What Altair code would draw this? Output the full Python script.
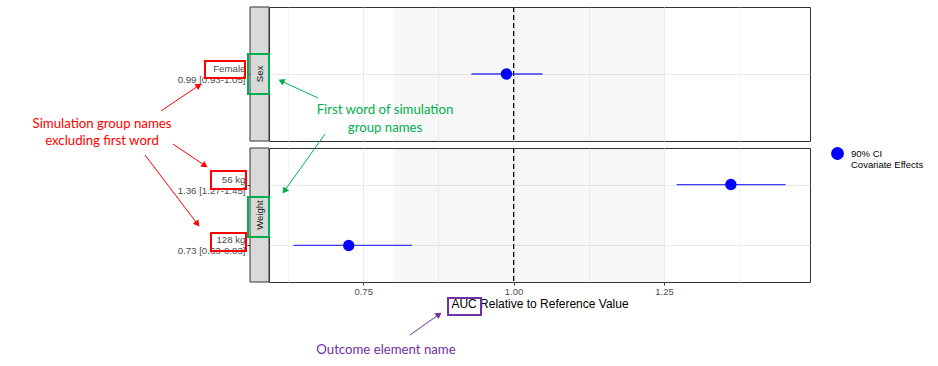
import math
import altair as alt
import pandas as pd

# ---------------- data ----------------
groups = ["Sex", "Weight", "Weight"]
subgroups = ["Female", "56 kg", "128 kg"]
estimates = [0.988, 1.361, 0.726]
ci_low = [0.930, 1.271, 0.634]
ci_high = [1.048, 1.452, 0.831]
x_major = [0.75, 1.00, 1.25]
x_minor = [0.625, 0.875, 1.125, 1.375]
x_domain = [0.5935, 1.4925]
ref_band = [0.80, 1.25]
ref_value = [1.0]
outcome = "AUC"
legend_text = ["90% CI", "Covariate Effects"]

df = pd.DataFrame({
    "group": groups,
    "sub": subgroups,
    "est": estimates,
    "lo": ci_low,
    "hi": ci_high,
})
df["label"] = [f"{s}|{e:.2f} [{l:.2f}-{h:.2f}]" for s, e, l, h in zip(subgroups, estimates, ci_low, ci_high)]
df["legend"] = "|".join(legend_text)

band_df = pd.DataFrame({"lo": [ref_band[0]], "hi": [ref_band[1]]})
ref_df = pd.DataFrame({"v": ref_value})
one = pd.DataFrame({"a": [0]})

# ---------------- layout ----------------
W, H, STRIP = 541, 134, 19
GAP = 7
ORIGIN_TOP = (268, 6)
ORIGIN_BOT = (268, 6 + H + GAP)

FONT = "Liberation Sans"
ANN_FONT = "Lato"
GRID = "#ebebeb"
BLUE = "#0000ff"

all_ticks = sorted(x_major + x_minor)
major_test = "indexof([" + ",".join(str(v) for v in x_major) + "], datum.value) >= 0"
xscale = alt.Scale(domain=x_domain, nice=False, zero=False)


def panel(group, bottom):
    d = df[df["group"] == group]
    if bottom:
        xaxis = alt.Axis(
            values=all_ticks,
            labelExpr=major_test + " ? format(datum.value, '.2f') : ''",
            tickOpacity={"condition": {"test": major_test, "value": 1}, "value": 0},
            gridWidth={"condition": {"test": major_test, "value": 1.0}, "value": 0.6},
            title=f"{outcome} Relative to Reference Value",
            titleFontSize=12, titleColor="black", titleFontWeight="normal",
            titlePadding=3, titleFont=FONT,
            labelFontSize=9.5, labelColor="#4d4d4d", labelFont=FONT, labelPadding=1,
            tickColor="#333", tickSize=3, domain=False, grid=True, gridColor=GRID,
        )
    else:
        xaxis = alt.Axis(
            values=all_ticks, labels=False, ticks=False, title=None, domain=False,
            grid=True, gridColor=GRID,
            gridWidth={"condition": {"test": major_test, "value": 1.0}, "value": 0.6},
        )
    yaxis = alt.Axis(
        title=None, labelExpr="split(datum.value, '|')", labelAlign="right",
        labelBaseline="middle", labelLineHeight=11, labelOffset=-5.5,
        offset=STRIP, domain=False,
        ticks=True, tickColor="#333", tickSize=3, labelPadding=2,
        labelFontSize=9.7, labelColor="#4d4d4d", labelFont=FONT,
        grid=True, gridColor=GRID, gridWidth=1,
    )
    yscale = alt.Scale(type="point", padding=0.6)
    ysort = list(d["label"])

    shade = alt.Chart(band_df).mark_rect(color="black", opacity=0.03).encode(
        x=alt.X("lo:Q", scale=xscale, axis=xaxis), x2="hi:Q"
    )
    ref = alt.Chart(ref_df).mark_rule(color="black", strokeDash=[5, 3], strokeWidth=1.2).encode(
        x=alt.X("v:Q", scale=xscale)
    )
    ci = alt.Chart(d).mark_rule(color="#3a3aee", strokeWidth=1.3).encode(
        x=alt.X("lo:Q", scale=xscale), x2="hi:Q",
        y=alt.Y("label:N", scale=yscale, axis=yaxis, sort=ysort),
    )
    if bottom:
        col = alt.Color(
            "legend:N", scale=alt.Scale(range=[BLUE]),
            legend=alt.Legend(
                title=None, orient="none", legendX=562, legendY=-1,
                labelExpr="split(datum.label, '|')", symbolType="circle",
                symbolSize=130, symbolFillColor=BLUE, symbolStrokeColor=BLUE,
                labelFontSize=9.5, labelFont=FONT, labelColor="black",
                labelFontWeight="normal",
                labelOffset=7, labelBaseline="middle",
            ),
        )
    else:
        col = alt.value(BLUE)
    pts = alt.Chart(d).mark_circle(size=130, opacity=1).encode(
        x=alt.X("est:Q", scale=xscale),
        y=alt.Y("label:N", scale=yscale, sort=ysort),
        color=col,
    )
    strip_src = alt.Chart(d).transform_aggregate(n="count()", groupby=["group"])
    strip = strip_src.mark_rect(fill="#d9d9d9", stroke="#333", strokeWidth=1).encode(
        x=alt.value(-STRIP), x2=alt.value(0), y=alt.value(0), y2=alt.value(H)
    )
    strip_txt = strip_src.mark_text(angle=270, fontSize=9.5, font=FONT, color="#1a1a1a").encode(
        x=alt.value(-STRIP / 2), y=alt.value(H / 2), text="group:N"
    )
    layers = [shade, ref, ci, pts, strip, strip_txt]
    return layers


# ---------------- annotations (absolute page pixels) ----------------
def rel(p, origin):
    return p[0] - origin[0], p[1] - origin[1]


boxes = [
    ((204, 60), (244, 77), "#ff0000"),
    ((210, 170), (245, 188), "#ff0000"),
    ((210, 232), (245, 250), "#ff0000"),
    ((247, 53), (268, 93), "#00b050"),
    ((247, 196), (268, 236), "#00b050"),
    ((447, 297), (480, 314), "#7030a0"),
]
arrows = [
    ((160, 110), (200, 83), "#ff0000"),
    ((172, 143), (206, 166), "#ff0000"),
    ((144, 154), (198, 225), "#ff0000"),
    ((317, 97), (278, 79), "#00b050"),
    ((324, 133), (282, 192), "#00b050"),
    ((409, 334), (440, 312), "#7030a0"),
]
texts = [
    ("Simulation  group names", (101, 123), "#ff0000"),
    ("excluding first word", (101, 140), "#ff0000"),
    ("First word of simulation", (384, 109), "#00b050"),
    ("group names", (384, 127), "#00b050"),
    ("Outcome element name", (385, 349), "#7030a0"),
]


def annotation_layers(origin):
    out = []
    base = alt.Chart(one)
    for p1, p2, c in boxes:
        a, b = rel(p1, origin), rel(p2, origin)
        out.append(base.mark_rect(fill=None, fillOpacity=0, stroke=c, strokeWidth=2).encode(
            x=alt.value(a[0]), x2=alt.value(b[0]), y=alt.value(a[1]), y2=alt.value(b[1])))
    for p1, p2, c in arrows:
        a, b = rel(p1, origin), rel(p2, origin)
        dx, dy = b[0] - a[0], b[1] - a[1]
        L = math.hypot(dx, dy)
        ux, uy = dx / L, dy / L
        ang = math.degrees(math.atan2(dx, -dy)) % 360
        out.append(base.mark_rule(color=c, strokeWidth=1).encode(
            x=alt.value(a[0]), y=alt.value(a[1]),
            x2=alt.value(b[0] - ux * 4), y2=alt.value(b[1] - uy * 4)))
        out.append(base.mark_point(shape="triangle", filled=True, size=50, angle=ang,
                                   color=c, opacity=1).encode(
            x=alt.value(b[0] - ux * 3.5), y=alt.value(b[1] - uy * 3.5)))
    for t, p, c in texts:
        a = rel(p, origin)
        out.append(base.mark_text(text=t, font=ANN_FONT, fontSize=13.2, color=c,
                                  align="center", baseline="middle").encode(
            x=alt.value(a[0]), y=alt.value(a[1])))
    return out


anchor = alt.Chart(one).mark_rect(opacity=0).encode(
    x=alt.value(-ORIGIN_TOP[0]), x2=alt.value(-ORIGIN_TOP[0] + 1),
    y=alt.value(-ORIGIN_TOP[1]), y2=alt.value(-ORIGIN_TOP[1] + 1),
)

top = alt.layer(*(panel("Sex", False) + [anchor])).properties(width=W, height=H)
bot = alt.layer(*(panel("Weight", True) + annotation_layers(ORIGIN_BOT))).properties(width=W, height=H)

chart = (
    alt.vconcat(top, bot, spacing=GAP, bounds="flush")
    .resolve_scale(color="independent")
    .resolve_legend(color="independent")
    .properties(padding=0, background="white")
    .configure_view(stroke="#333", strokeWidth=1)
)

chart.save("out.html", embed_options={"renderer": "svg", "actions": False})
